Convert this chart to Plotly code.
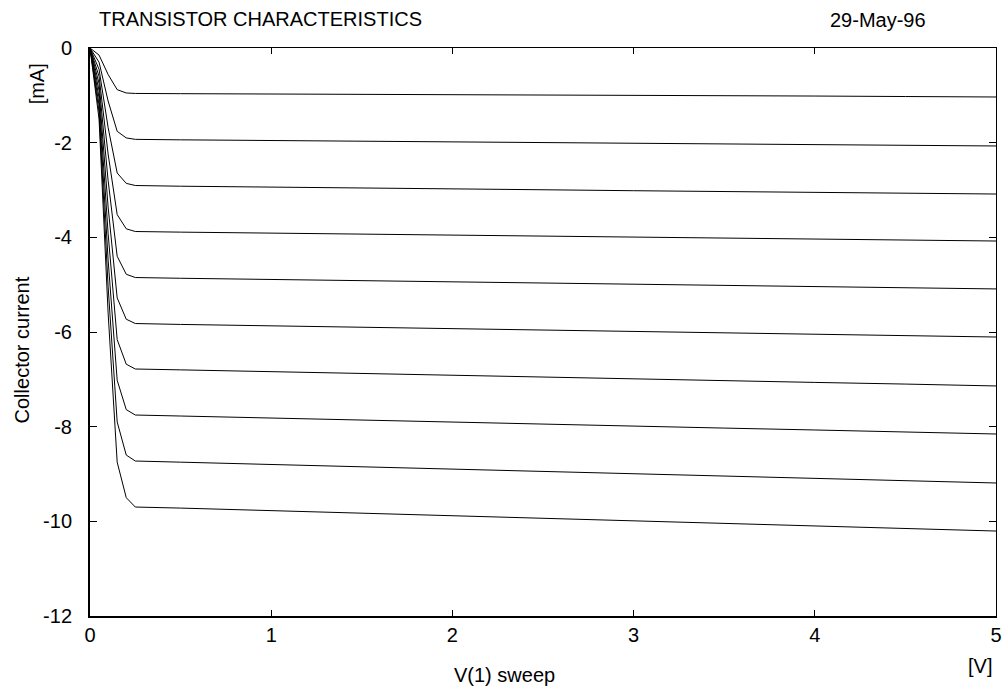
import plotly.graph_objects as go

x_sweep = [0, 0.05, 0.1, 0.15, 0.2, 0.25, 0.5, 1.0, 1.5, 2.0, 2.5, 3.0, 3.5, 4.0, 4.5, 5.0]

curve_1 = [0, -0.15, -0.56, -0.88, -0.95, -0.96, -0.965, -0.97, -0.98, -0.985, -0.99, -1.0, -1.01, -1.015, -1.025, -1.035]
curve_2 = [0, -0.30, -1.12, -1.76, -1.90, -1.93, -1.94, -1.955, -1.97, -1.985, -2.0, -2.015, -2.03, -2.045, -2.06, -2.07]
curve_3 = [0, -0.45, -1.68, -2.64, -2.86, -2.905, -2.92, -2.935, -2.955, -2.975, -2.995, -3.015, -3.035, -3.05, -3.07, -3.085]
curve_4 = [0, -0.60, -2.24, -3.52, -3.82, -3.877, -3.89, -3.91, -3.93, -3.955, -3.975, -3.995, -4.015, -4.035, -4.055, -4.078]
curve_5 = [0, -0.75, -2.80, -4.40, -4.78, -4.849, -4.865, -4.89, -4.915, -4.94, -4.965, -4.99, -5.015, -5.04, -5.065, -5.09]
curve_6 = [0, -0.90, -3.36, -5.28, -5.73, -5.821, -5.84, -5.87, -5.90, -5.93, -5.96, -5.99, -6.02, -6.05, -6.08, -6.106]
curve_7 = [0, -1.05, -3.92, -6.16, -6.68, -6.782, -6.80, -6.84, -6.88, -6.92, -6.955, -6.99, -7.03, -7.065, -7.10, -7.14]
curve_8 = [0, -1.20, -4.48, -7.02, -7.64, -7.754, -7.775, -7.82, -7.865, -7.91, -7.95, -7.99, -8.03, -8.07, -8.115, -8.155]
curve_9 = [0, -1.35, -5.04, -7.90, -8.60, -8.726, -8.75, -8.80, -8.85, -8.90, -8.95, -8.995, -9.045, -9.095, -9.145, -9.19]
curve_10 = [0, -1.50, -5.60, -8.75, -9.50, -9.698, -9.72, -9.775, -9.83, -9.885, -9.94, -9.995, -10.05, -10.10, -10.155, -10.205]

curves = [curve_1, curve_2, curve_3, curve_4, curve_5, curve_6, curve_7, curve_8, curve_9, curve_10]

x_ticks = [0, 1, 2, 3, 4, 5]
y_ticks = [0, -2, -4, -6, -8, -10, -12]

FONT = "Liberation Sans, Arial, sans-serif"
FS = 20
TXT = "#000"

fig = go.Figure()
for c in curves:
    fig.add_trace(go.Scatter(x=x_sweep, y=c, mode="lines",
                             line=dict(color="black", width=1),
                             showlegend=False, hoverinfo="skip"))
# invisible trace for mirrored (top/right) axes
fig.add_trace(go.Scatter(x=[0, 5], y=[0, -12], xaxis="x2", yaxis="y2",
                         mode="markers", marker=dict(opacity=0),
                         showlegend=False, hoverinfo="skip"))

W, H = 1005, 687
L, R, T, B = 90, 3, 48, 71

fig.update_layout(
    width=W, height=H,
    margin=dict(l=L, r=R, t=T, b=B, pad=0),
    paper_bgcolor="white", plot_bgcolor="white",
    font=dict(family=FONT, size=FS, color=TXT),
    xaxis=dict(range=[0, 5], tickvals=x_ticks, ticktext=[str(v) for v in x_ticks],
               ticks="inside", ticklen=6, tickwidth=1, tickcolor="black",
               showline=True, linecolor="black", linewidth=2,
               showgrid=False, zeroline=False, ticklabelstandoff=0,
               ticklabeloverflow="allow", tickfont=dict(size=FS, color=TXT)),
    yaxis=dict(range=[-12, 0], tickvals=y_ticks, ticktext=[str(v) for v in y_ticks],
               ticks="inside", ticklen=7, tickwidth=1, tickcolor="black",
               showline=True, linecolor="black", linewidth=2,
               showgrid=False, zeroline=False, ticklabelstandoff=12,
               ticklabeloverflow="allow", tickfont=dict(size=FS, color=TXT)),
    xaxis2=dict(range=[0, 5], overlaying="x", side="top", tickvals=x_ticks,
                showticklabels=False, ticks="inside", ticklen=6, tickcolor="black",
                showline=True, linecolor="black", linewidth=1,
                showgrid=False, zeroline=False),
    yaxis2=dict(range=[-12, 0], overlaying="y", side="right", anchor="x2",
                tickvals=y_ticks, showticklabels=False, ticks="inside", ticklen=7,
                tickcolor="black", showline=True, linecolor="black", linewidth=1,
                showgrid=False, zeroline=False),
)

pw = W - L - R
ph = H - T - B

def px_x(p):
    return (p - L) / pw

def px_y(p):
    return (H - B - p) / ph

annots = [
    dict(text="TRANSISTOR CHARACTERISTICS", x=px_x(97), y=px_y(19), xanchor="left", yanchor="middle"),
    dict(text="29-May-96", x=px_x(934), y=px_y(20), xanchor="right", yanchor="middle"),
    dict(text="Collector current", x=px_x(22), y=px_y(350), xanchor="center", yanchor="middle", textangle=-90),
    dict(text="[mA]", x=px_x(37), y=px_y(84), xanchor="center", yanchor="middle", textangle=-90),
    dict(text="V(1) sweep", x=px_x(507), y=px_y(675), xanchor="center", yanchor="middle"),
    dict(text="[V]", x=px_x(986), y=px_y(666), xanchor="center", yanchor="middle"),
]
for a in annots:
    fig.add_annotation(xref="paper", yref="paper", showarrow=False,
                       font=dict(family=FONT, size=FS, color=TXT), **a)

fig.write_html("out.html")
